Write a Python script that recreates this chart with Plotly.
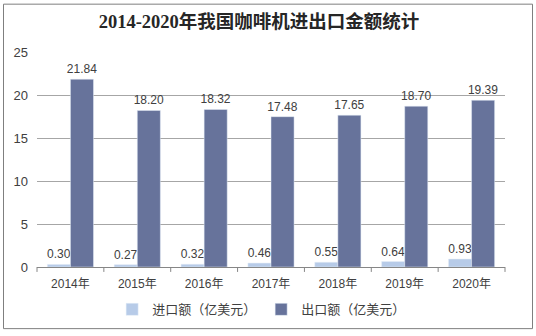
import plotly.graph_objects as go

years = ["2014年", "2015年", "2016年", "2017年", "2018年", "2019年", "2020年"]
imports = [0.30, 0.27, 0.32, 0.46, 0.55, 0.64, 0.93]
exports = [21.84, 18.20, 18.32, 17.48, 17.65, 18.70, 19.39]
import_labels = ["0.30", "0.27", "0.32", "0.46", "0.55", "0.64", "0.93"]
export_labels = ["21.84", "18.20", "18.32", "17.48", "17.65", "18.70", "19.39"]

font_fam = "Liberation Sans, Noto Sans CJK SC, sans-serif"

fig = go.Figure()
fig.add_bar(x=years, y=imports, name="进口额（亿美元）", marker_color="#B7CBE8",
            text=import_labels, textposition="outside", cliponaxis=False,
            constraintext="none",
            textfont=dict(size=12, color="#404040"))
fig.add_bar(x=years, y=exports, name="出口额（亿美元）", marker_color="#67739B",
            text=export_labels, textposition="outside", cliponaxis=False,
            constraintext="none",
            textfont=dict(size=12, color="#404040"))

W, H = 536, 336
L, R, T, B = 37, 31, 52, 66
pw, ph = W - L - R, H - T - B

def px(x):
    return (x - L) / pw

def py(y):
    return (H - B - y) / ph

fig.update_layout(
    width=W, height=H,
    margin=dict(l=L, r=R, t=T, b=B),
    paper_bgcolor="white", plot_bgcolor="white",
    barmode="group", bargap=0.31, bargroupgap=0,
    font=dict(family=font_fam, size=12, color="#404040"),
    title=dict(text="<b>2014-2020年我国咖啡机进出口金额统计</b>",
               x=259 / W, xanchor="center", y=1 - 22 / H, yanchor="middle",
               font=dict(family="Liberation Serif, Noto Sans CJK SC, serif", size=18.5, color="#262626")),
    xaxis=dict(showgrid=False, showline=True, linecolor="#868686", linewidth=1,
               ticks="", ticklabelstandoff=6, tickfont=dict(size=12, color="#404040")),
    yaxis=dict(range=[0, 25], dtick=5, showgrid=True, gridcolor="#A6A6A6", gridwidth=1,
               zeroline=False, showline=False, ticks="", ticklabelstandoff=8,
               tickfont=dict(size=13, color="#404040")),
    legend=dict(orientation="h", x=0.48, xanchor="center", y=py(313), yanchor="middle",
                font=dict(size=13, color="#404040"), itemwidth=30,
                traceorder="normal"),
    shapes=[
        dict(type="rect", xref="paper", yref="paper",
             x0=px(3.5), x1=px(532.5), y0=py(332.5), y1=py(3.5),
             line=dict(color="#7F7F7F", width=1), fillcolor="rgba(0,0,0,0)", layer="below"),
    ] + [
        dict(type="line", xref="paper", yref="paper",
             x0=i / 7, x1=i / 7, y0=0, y1=-5 / ph,
             line=dict(color="#868686", width=1))
        for i in range(8)
    ],
)

fig.write_html("out.html")
